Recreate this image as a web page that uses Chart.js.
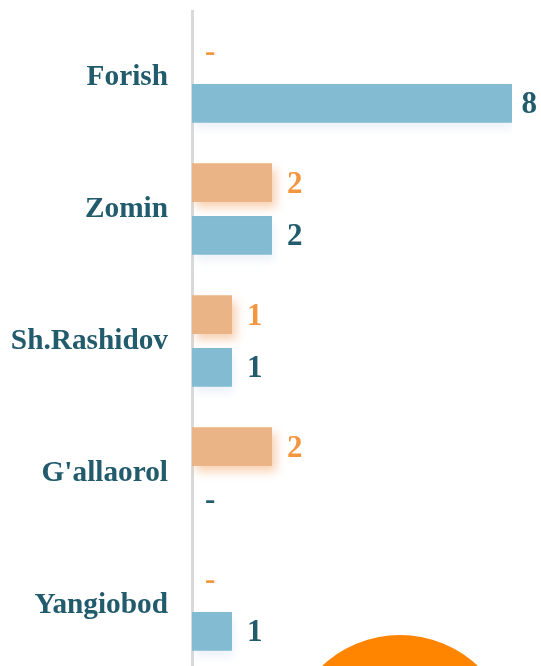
<!DOCTYPE html>
<html>
<head>
<meta charset="utf-8">
<script src="https://cdn.jsdelivr.net/npm/chart.js@4.4.1/dist/chart.umd.min.js"></script>
<style>
 html, body {
  margin: 0;
  padding: 0;
  background: #ffffff;
  overflow: hidden;
 }
 #wrap {
  position: relative;
  width: 541px;
  height: 666px;
  overflow: hidden;
 }
 #districts-chart {
  position: absolute;
  left: 0;
  top: 0;
 }
 #dot {
  position: absolute;
  left: 286px;
  top: 635px;
  width: 228px;
  height: 228px;
  border-radius: 50%;
  background: #ff8500;
 }
</style>
</head>
<body>
<div id="wrap">
 <canvas id="districts-chart" width="541" height="680"></canvas>
 <div id="dot"></div>
</div>
<script>
var districts = ["Forish", "Zomin", "Sh.Rashidov", "G'allaorol", "Yangiobod"];
var orangeValues = [0, 2, 1, 2, 0];
var blueValues = [8, 2, 1, 0, 1];
var xTicks = { min: 0, max: 8 };

var labelFont = "bold 31px 'Liberation Serif', 'Times New Roman', serif";

// soft glow under the bars
var barShadow = {
 id: "barShadow",
 beforeDatasetDraw: function (chart, args) {
  var ctx = chart.ctx;
  ctx.save();
  if (args.index === 0) {
   ctx.shadowColor = "rgba(240, 150, 80, 0.45)";
   ctx.shadowBlur = 9;
   ctx.shadowOffsetX = 4;
   ctx.shadowOffsetY = 6;
  } else {
   ctx.shadowColor = "rgba(170, 195, 225, 0.2)";
   ctx.shadowBlur = 8;
   ctx.shadowOffsetX = 2;
   ctx.shadowOffsetY = 6;
  }
 },
 afterDatasetDraw: function (chart) {
  chart.ctx.restore();
 },
};

// value labels at the end of each bar, "-" for zero
var valueLabels = {
 id: "valueLabels",
 afterDatasetsDraw: function (chart) {
  var ctx = chart.ctx;
  var colors = ["#f5953f", "#215b6c"];
  ctx.save();
  ctx.font = labelFont;
  ctx.textBaseline = "middle";
  ctx.textAlign = "left";
  chart.data.datasets.forEach(function (ds, i) {
   var meta = chart.getDatasetMeta(i);
   ctx.fillStyle = colors[i];
   meta.data.forEach(function (bar, j) {
    var v = ds.data[j];
    var text = v ? String(v) : "-";
    var x = bar.x + (v ? 15 : 13);
    // keep the label inside the canvas
    var w = ctx.measureText(text).width;
    x = Math.min(x, chart.width - w - 4);
    ctx.fillText(text, x, bar.y + 2);
   });
  });
  ctx.restore();
 },
};

var ctx = document.getElementById("districts-chart");

new Chart(ctx, {
 type: "bar",
 data: {
  labels: districts,
  datasets: [
   {
    label: "A",
    data: orangeValues,
    backgroundColor: "#ebb486",
    categoryPercentage: 0.8,
    barPercentage: 0.736,
   },
   {
    label: "B",
    data: blueValues,
    backgroundColor: "#82bbd2",
    categoryPercentage: 0.8,
    barPercentage: 0.736,
   },
  ],
 },
 plugins: [barShadow, valueLabels],
 options: {
  indexAxis: "y",
  responsive: false,
  animation: false,
  layout: {
   padding: { top: 11, right: 29, bottom: 9, left: 0 },
  },
  plugins: {
   legend: { display: false },
   tooltip: { enabled: false },
  },
  scales: {
   x: {
    display: false,
    min: xTicks.min,
    max: xTicks.max,
   },
   y: {
    afterFit: function (scale) {
     scale.width = 192;
     // labels sit inside their bands, no extra room needed above/below
     scale.paddingTop = 0;
     scale.paddingBottom = 0;
    },
    grid: { display: false, drawTicks: false },
    border: { display: true, color: "#d9d9d9", width: 3 },
    ticks: {
     padding: 24,
     color: "#215b6c",
     font: {
      family: "'Liberation Serif', 'Times New Roman', serif",
      size: 29.3,
      weight: "bold",
     },
    },
   },
  },
 },
});
</script>
</body>
</html>
